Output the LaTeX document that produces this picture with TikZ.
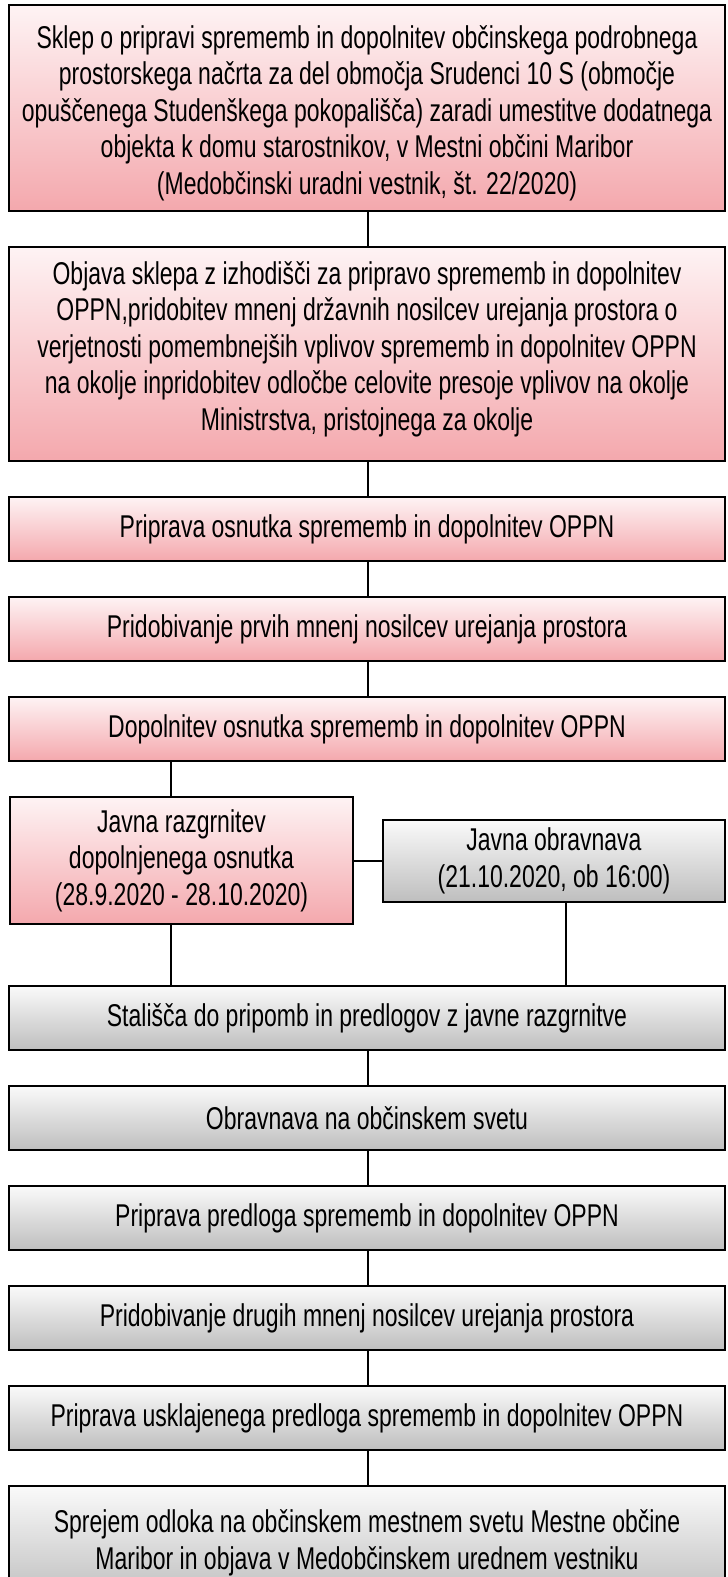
\documentclass[tikz,border=0pt]{standalone}
\usepackage{fontspec}
\setmainfont{Liberation Sans}[FakeStretch=0.73]
\definecolor{pinkTop}{RGB}{254,243,244}
\definecolor{pinkBot}{RGB}{244,168,173}
\definecolor{grayTop}{RGB}{250,250,250}
\definecolor{grayBot}{RGB}{190,190,190}
\tikzset{
  box/.style={draw=black, line width=1.8pt, inner sep=0pt, align=center,
    font=\fontsize{31.5}{36.5}\selectfont, text=black},
  txt/.style={inner sep=0pt, align=center, font=\fontsize{31.5}{36.5}\selectfont, text=black},
  pinkbox/.style={box, top color=pinkTop, bottom color=pinkBot},
  graybox/.style={box, top color=grayTop, bottom color=grayBot},
  wide/.style={minimum width=716pt},
  short/.style={minimum height=64pt},
  link/.style={draw=black, line width=1.6pt},
}
\begin{document}
\begin{tikzpicture}[x=1pt,y=-1pt]
\useasboundingbox (0,0) rectangle (728,1577);
\fill[white] (0,0) rectangle (728,1577);
\node[pinkbox, wide, minimum height=206pt] (b1) at (367,108) {};
\node[txt] (t1) at ([yshift=-5pt]b1.center) {Sklep o pripravi sprememb in dopolnitev občinskega podrobnega\\prostorskega načrta za del območja Srudenci 10 S (območje\\opuščenega Studenškega pokopališča) zaradi umestitve dodatnega\\objekta k domu starostnikov, v Mestni občini Maribor\\(Medobčinski uradni vestnik, št. 22/2020)};
\node[pinkbox, wide, minimum height=214pt] (b2) at (367,354) {};
\node[txt] (t2) at ([yshift=5pt]b2.center) {Objava sklepa z izhodišči za pripravo sprememb in dopolnitev\\OPPN,pridobitev mnenj državnih nosilcev urejanja prostora o\\verjetnosti pomembnejših vplivov sprememb in dopolnitev OPPN\\na okolje inpridobitev odločbe celovite presoje vplivov na okolje\\Ministrstva, pristojnega za okolje};
\node[pinkbox, wide, short] (b3) at (367,529) {Priprava osnutka sprememb in dopolnitev OPPN};
\node[pinkbox, wide, short] (b4) at (367,629) {Pridobivanje prvih mnenj nosilcev urejanja prostora};
\node[pinkbox, wide, short] (b5) at (367,729) {Dopolnitev osnutka sprememb in dopolnitev OPPN};
\node[pinkbox, minimum width=343pt, minimum height=127pt] (b6) at (181.5,860.5) {Javna razgrnitev\\dopolnjenega osnutka\\(28.9.2020 - 28.10.2020)};
\node[graybox, minimum width=342pt, minimum height=82pt] (b7) at (554,861) {Javna obravnava\\(21.10.2020, ob 16:00)};
\node[graybox, wide, short] (b8) at (367,1018) {Stališča do pripomb in predlogov z javne razgrnitve};
\node[graybox, wide, short] (b9) at (367,1118) {Obravnava na občinskem svetu};
\node[graybox, wide, short] (b10) at (367,1218) {Priprava predloga sprememb in dopolnitev OPPN};
\node[graybox, wide, short] (b11) at (367,1318) {Pridobivanje drugih mnenj nosilcev urejanja prostora};
\node[graybox, wide, short] (b12) at (367,1418) {Priprava usklajenega predloga sprememb in dopolnitev OPPN};
\node[graybox, wide, minimum height=114pt] (b13) at (367,1543) {Sprejem odloka na občinskem mestnem svetu Mestne občine\\Maribor in objava v Medobčinskem urednem vestniku};
\coordinate (mx) at (368,0);
\coordinate (lx) at (171,0);
\coordinate (rx) at (566,0);
\draw[link] (b1.south -| mx) -- (b2.north -| mx);
\draw[link] (b2.south -| mx) -- (b3.north -| mx);
\draw[link] (b3.south -| mx) -- (b4.north -| mx);
\draw[link] (b4.south -| mx) -- (b5.north -| mx);
\draw[link] (b5.south -| lx) -- (b6.north -| lx);
\draw[link] (b6.east |- b7.west) -- (b7.west);
\draw[link] (b6.south -| lx) -- (b8.north -| lx);
\draw[link] (b7.south -| rx) -- (b8.north -| rx);
\draw[link] (b8.south -| mx) -- (b9.north -| mx);
\draw[link] (b9.south -| mx) -- (b10.north -| mx);
\draw[link] (b10.south -| mx) -- (b11.north -| mx);
\draw[link] (b11.south -| mx) -- (b12.north -| mx);
\draw[link] (b12.south -| mx) -- (b13.north -| mx);
\end{tikzpicture}
\end{document}
